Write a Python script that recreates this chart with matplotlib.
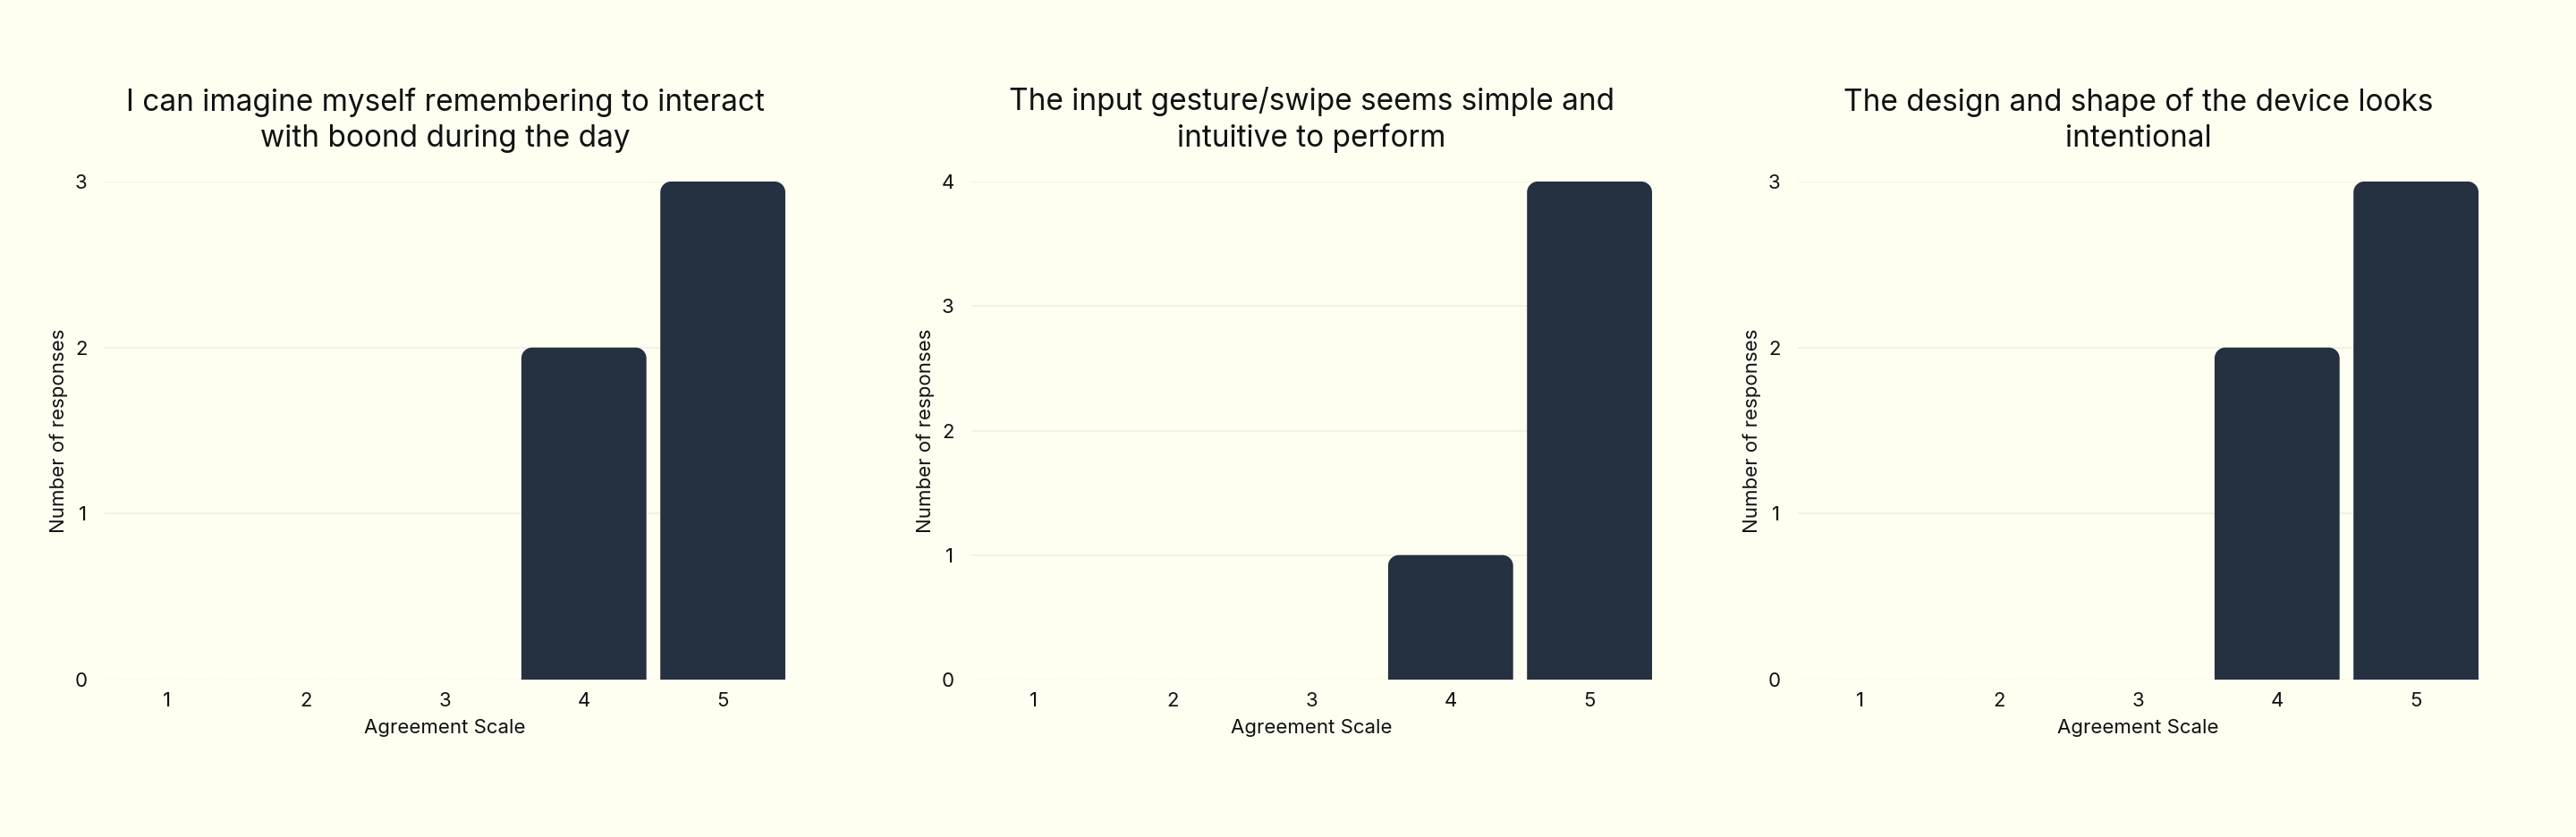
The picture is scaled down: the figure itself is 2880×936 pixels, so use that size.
import matplotlib
matplotlib.use("Agg")
import matplotlib.pyplot as plt
from matplotlib.path import Path
from matplotlib.patches import PathPatch

plt.rcParams['font.family'] = ['Inter', 'DejaVu Sans']

categories = ["1", "2", "3", "4", "5"]
titles = [
    "I can imagine myself remembering to interact\nwith boond during the day",
    "The input gesture/swipe seems simple and\nintuitive to perform",
    "The design and shape of the device looks\nintentional",
]
counts_q1 = [0, 0, 0, 2, 3]
counts_q2 = [0, 0, 0, 1, 4]
counts_q3 = [0, 0, 0, 2, 3]
series = [counts_q1, counts_q2, counts_q3]
xlabel = "Agreement Scale"
ylabel = "Number of responses"

BG = "#FEFEF1"
BAR = "#253041"
GRID = "#EFEFE6"

W, H = 2880, 936
fig = plt.figure(figsize=(W / 100, H / 100), dpi=100, facecolor=BG)

lefts = [117, 1086, 2010]
ax_w = 761
ax_bottom_px = 760
ax_top_px = 203


def rounded_top(ax, rect, r_px):
    x0, y0 = rect.get_x(), rect.get_y()
    w, h = rect.get_width(), rect.get_height()
    if h <= 0:
        return
    bbox = ax.get_window_extent()
    xl = ax.get_xlim(); yl = ax.get_ylim()
    sx = bbox.width / (xl[1] - xl[0])
    sy = bbox.height / (yl[1] - yl[0])
    rx = r_px / sx
    ry = min(r_px / sy, h)
    k = 0.5523
    x1, y1 = x0 + w, y0 + h
    verts = [
        (x0, y0), (x0, y1 - ry),
        (x0, y1 - ry + k * ry), (x0 + rx - k * rx, y1), (x0 + rx, y1),
        (x1 - rx, y1),
        (x1 - rx + k * rx, y1), (x1, y1 - ry + k * ry), (x1, y1 - ry),
        (x1, y0), (x0, y0),
    ]
    codes = [Path.MOVETO, Path.LINETO,
             Path.CURVE4, Path.CURVE4, Path.CURVE4,
             Path.LINETO,
             Path.CURVE4, Path.CURVE4, Path.CURVE4,
             Path.LINETO, Path.CLOSEPOLY]
    patch = PathPatch(Path(verts, codes), facecolor=BAR, edgecolor='none', zorder=3)
    ax.add_patch(patch)
    rect.set_visible(False)


for i, (vals, title) in enumerate(zip(series, titles)):
    ax = fig.add_axes([lefts[i] / W, 1 - ax_bottom_px / H, ax_w / W, (ax_bottom_px - ax_top_px) / H])
    ax.set_facecolor(BG)
    xs = list(range(len(categories)))
    bars = ax.bar(xs, vals, width=0.9, color=BAR, zorder=3)
    ax.set_xlim(-0.45, len(categories) - 0.55)
    ymax = max(vals)
    ax.set_ylim(0, ymax)
    ax.set_yticks(range(0, ymax + 1))
    ax.set_xticks(xs)
    ax.set_xticklabels(categories)
    for s in ax.spines.values():
        s.set_visible(False)
    ax.tick_params(axis='both', length=0, labelsize=16, colors='#111111')
    ax.tick_params(axis='y', pad=14)
    ax.tick_params(axis='x', pad=10)
    for yv in range(1, ymax + 1):
        ax.axhline(yv, color=GRID, lw=1.2, zorder=1)
    ax.axhline(0, color='#D8D8D0', lw=1.0, ls=(0, (1.5, 1.5)), zorder=1)
    ax.set_xlabel(xlabel, fontsize=16, labelpad=7, color='#111111')
    ax.set_ylabel(ylabel, fontsize=16, labelpad=5, color='#111111')
    ax.set_title(title, fontsize=24, pad=28, color='#111111', linespacing=1.33)
    for rect in bars:
        rounded_top(ax, rect, 12)

fig.savefig("out.png", dpi=100, facecolor=BG)
